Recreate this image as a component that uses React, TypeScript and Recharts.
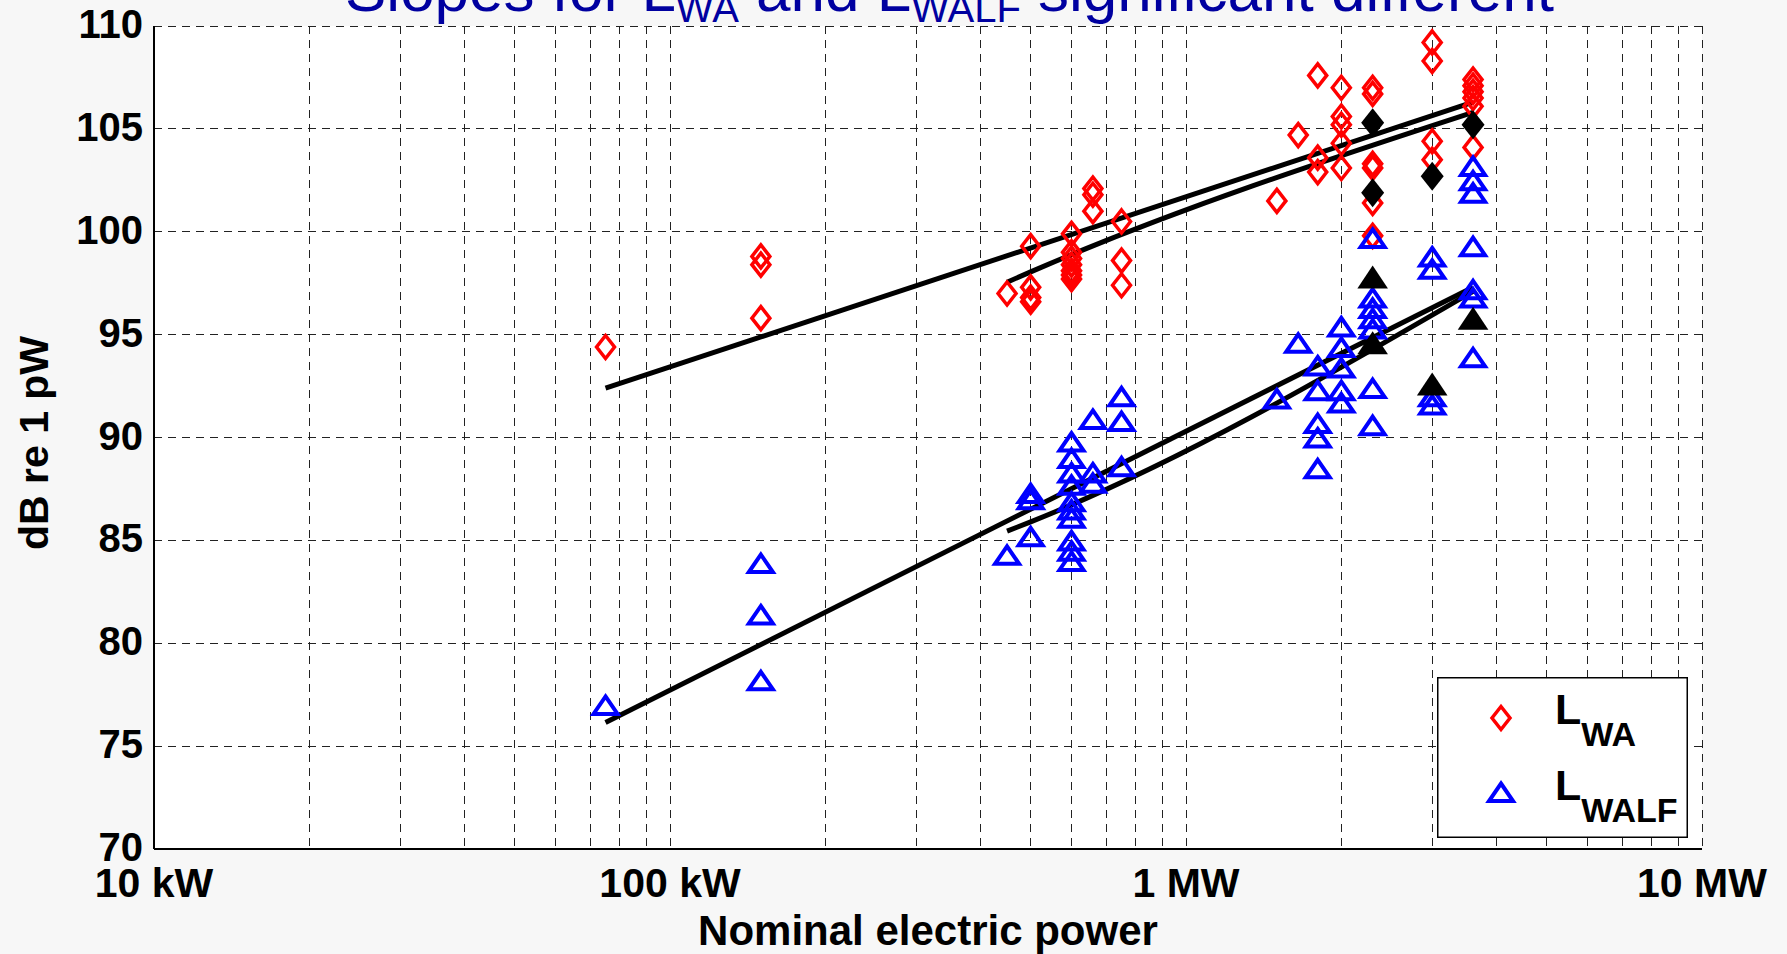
import {
  CartesianGrid,
  ComposedChart,
  Label,
  Legend,
  Line,
  Scatter,
  XAxis,
  YAxis,
} from "recharts"

const WIDTH = 1787
const HEIGHT = 954
const FONT = "'Liberation Sans', Arial, Helvetica, sans-serif"

// turbine ratings in kW (one column of markers per rating)
const ratingsKW = [75, 150, 450, 500, 600, 660, 750, 1500, 1650, 1800, 2000, 2300, 3000, 3600]

// A-weighted sound power level, dB re 1 pW
const lwaByRating = [
  [94.4],
  [98.8, 98.4, 95.8],
  [97.0],
  [99.3, 97.3, 96.8, 96.6],
  [99.9, 99.0, 98.7, 98.4, 98.1, 97.9, 97.7],
  [102.1, 101.8, 101.0],
  [100.5, 98.6, 97.4],
  [101.5],
  [104.7],
  [107.6, 103.6, 102.9],
  [107.0, 105.6, 105.2, 104.3, 103.1],
  [107.0, 106.7, 103.3, 103.1, 101.4, 99.8],
  [109.2, 108.3, 104.4, 103.5],
  [107.4, 107.1, 106.8, 106.5, 106.1, 104.1],
]

// A-weighted low-frequency sound power level
const lwalfByRating = [
  [77.0],
  [83.9, 81.4, 78.2],
  [84.3],
  [87.3, 87.0, 85.2],
  [89.8, 89.0, 88.3, 87.7, 86.9, 86.5, 86.1, 85.0, 84.5, 84.0],
  [90.9, 88.3, 87.8],
  [92.0, 90.8, 88.6],
  [91.9],
  [94.6],
  [93.5, 92.3, 90.7, 90.0, 88.5],
  [95.4, 94.4, 93.4, 92.3, 91.7],
  [99.7, 96.8, 96.3, 95.8, 95.3, 92.4, 90.6],
  [98.8, 98.2, 92.0, 91.6],
  [103.2, 102.5, 101.9, 99.3, 97.2, 96.8, 93.9],
]

// highlighted turbines (filled black)
const markedKW = [2300, 2300, 3000, 3600]
const markedLwa = [105.3, 101.9, 102.7, 105.2]
const markedLwalf = [97.8, 94.6, 92.6, 95.8]

// regression lines: all turbines, and turbines from 450 kW up
const lwaFitAllKW = [75, 3600]
const lwaFitAllDb = [92.4, 106.3]
const lwaFitLargeKW = [450, 500, 3600]
const lwaFitLargeDb = [97.55, 98.05, 105.8]
const lwalfFitAllKW = [75, 3600]
const lwalfFitAllDb = [76.15, 97.3]
const lwalfFitLargeKW = [450, 500, 3600]
const lwalfFitLargeDb = [85.45, 85.9, 97.1]

// axis ticks
const xTicks = [
  10, 20, 30, 40, 50, 60, 70, 80, 90,
  100, 200, 300, 400, 500, 600, 700, 800, 900,
  1000, 2000, 3000, 4000, 5000, 6000, 7000, 8000, 9000,
  10000,
]
const decadeTicks = [10, 100, 1000, 10000]
const decadeLabels = ["10 kW", "100 kW", "1 MW", "10 MW"]
const yTicks = [70, 75, 80, 85, 90, 95, 100, 105, 110]

const toPoints = (byRating: number[][]) =>
  ratingsKW.flatMap((kw, i) => byRating[i].map((y) => ({ x: kw, y })))
const zip = (xs: number[], ys: number[]) => xs.map((x, i) => ({ x, y: ys[i] }))

const lwaPoints = toPoints(lwaByRating)
const lwalfPoints = toPoints(lwalfByRating)
const markedLwaPoints = zip(markedKW, markedLwa)
const markedLwalfPoints = zip(markedKW, markedLwalf)

const PLOT_LEFT = 154
const PLOT_RIGHT = 1702

const diamondPath = (cx: number, cy: number, w: number, h: number) =>
  `M${cx},${cy - h} L${cx + w},${cy} L${cx},${cy + h} L${cx - w},${cy} Z`
const trianglePath = (cx: number, cy: number, w: number, top: number, bottom: number) =>
  `M${cx},${cy - top} L${cx + w},${cy + bottom} L${cx - w},${cy + bottom} Z`

const OpenDiamond = ({ cx, cy }: any) => (
  <path d={diamondPath(cx, cy, 9, 11.5)} fill="none" stroke="#ff0000" strokeWidth={3.5} />
)
const OpenTriangle = ({ cx, cy }: any) => (
  <path d={trianglePath(cx, cy, 12, 8.5, 9)} fill="none" stroke="#0000ff" strokeWidth={4} />
)
const BlackDiamond = ({ cx, cy }: any) => <path d={diamondPath(cx, cy, 11.5, 14.5)} fill="#000" />
const BlackTriangle = ({ cx, cy }: any) => (
  <path d={trianglePath(cx, cy, 15.3, 11.5, 11.5)} fill="#000" />
)

const XTick = ({ x, y, payload }: any) => {
  const i = decadeTicks.indexOf(payload.value)
  if (i < 0) return <g />
  return (
    <text x={x} y={y + 48} textAnchor="middle" fontFamily={FONT} fontWeight="bold" fontSize={41} fill="#000">
      {decadeLabels[i]}
    </text>
  )
}

const YTick = ({ x, y, payload }: any) => (
  <text x={x - 11} y={y + 12} textAnchor="end" fontFamily={FONT} fontWeight="bold" fontSize={40} fill="#000">
    {payload.value}
  </text>
)

const XTitle = () => (
  <text x={(PLOT_LEFT + PLOT_RIGHT) / 2} y={945} textAnchor="middle" fontFamily={FONT} fontWeight="bold" fontSize={42} fill="#000">
    Nominal electric power
  </text>
)

const YTitle = () => (
  <text transform="translate(48,443) rotate(-90)" textAnchor="middle" fontFamily={FONT} fontWeight="bold" fontSize={41} fill="#000">
    dB re 1 pW
  </text>
)

const LegendBox = () => (
  <svg width={251} height={161} style={{ display: "block" }}>
    <rect x={0.75} y={0.75} width={249.5} height={159.5} fill="#fff" stroke="#000" strokeWidth={1.5} />
    <path d={diamondPath(64, 41, 9, 11.5)} fill="none" stroke="#ff0000" strokeWidth={3.5} />
    <path d={trianglePath(64, 115, 12, 8.5, 9)} fill="none" stroke="#0000ff" strokeWidth={4} />
    <text x={118} y={47} fontFamily={FONT} fontWeight="bold" fontSize={43} fill="#000">
      L<tspan fontSize={34} dy={22}>WA</tspan>
    </text>
    <text x={118} y={123} fontFamily={FONT} fontWeight="bold" fontSize={43} fill="#000">
      L<tspan fontSize={34} dy={22}>WALF</tspan>
    </text>
  </svg>
)

export default function App() {
  return (
    <div
      style={{
        position: "absolute",
        left: 0,
        top: 0,
        width: WIDTH,
        height: HEIGHT,
        background: "#f7f7f7",
        overflow: "hidden",
      }}
    >
      <ComposedChart width={WIDTH} height={HEIGHT} margin={{ top: 26, right: 85, left: 54, bottom: 45 }}>
        <CartesianGrid stroke="#222" strokeDasharray="8 6" fill="#fff" shapeRendering="crispEdges" />
        <XAxis
          dataKey="x"
          type="number"
          scale="log"
          domain={[10, 10000]}
          allowDataOverflow
          ticks={xTicks}
          interval={0}
          tick={XTick}
          tickLine={false}
          tickSize={0}
          tickMargin={0}
          height={60}
          axisLine={{ stroke: "#000", strokeWidth: 2 }}
        >
          <Label content={XTitle} />
        </XAxis>
        <XAxis
          xAxisId="top"
          orientation="top"
          type="number"
          scale="log"
          domain={[10, 10000]}
          allowDataOverflow
          height={0}
          tick={false}
          tickLine={false}
          axisLine={{ stroke: "#000", strokeWidth: 2 }}
        />
        <YAxis
          dataKey="y"
          type="number"
          domain={[70, 110]}
          allowDataOverflow
          ticks={yTicks}
          interval={0}
          tick={YTick}
          tickLine={false}
          tickSize={0}
          tickMargin={0}
          width={100}
          axisLine={{ stroke: "#000", strokeWidth: 2 }}
        >
          <Label content={YTitle} />
        </YAxis>
        <YAxis
          yAxisId="right"
          orientation="right"
          type="number"
          domain={[70, 110]}
          width={0}
          tick={false}
          tickLine={false}
          axisLine={{ stroke: "#000", strokeWidth: 2 }}
        />
        <Legend
          layout="vertical"
          align="center"
          verticalAlign="middle"
          wrapperStyle={{ left: 1437, top: 677, width: 251, height: 161 }}
          content={LegendBox}
        />
        <Scatter name="LWA" data={lwaPoints} shape={OpenDiamond} isAnimationActive={false} />
        <Scatter name="LWALF" data={lwalfPoints} shape={OpenTriangle} isAnimationActive={false} />
        <Scatter data={markedLwaPoints} shape={BlackDiamond} isAnimationActive={false} legendType="none" />
        <Scatter data={markedLwalfPoints} shape={BlackTriangle} isAnimationActive={false} legendType="none" />
        <Line data={zip(lwaFitAllKW, lwaFitAllDb)} dataKey="y" type="linear" stroke="#000" strokeWidth={5} dot={false} isAnimationActive={false} legendType="none" />
        <Line data={zip(lwaFitLargeKW, lwaFitLargeDb)} dataKey="y" type="monotone" stroke="#000" strokeWidth={5} dot={false} isAnimationActive={false} legendType="none" />
        <Line data={zip(lwalfFitAllKW, lwalfFitAllDb)} dataKey="y" type="linear" stroke="#000" strokeWidth={5} dot={false} isAnimationActive={false} legendType="none" />
        <Line data={zip(lwalfFitLargeKW, lwalfFitLargeDb)} dataKey="y" type="monotone" stroke="#000" strokeWidth={5} dot={false} isAnimationActive={false} legendType="none" />
      </ComposedChart>
      <svg
        width={WIDTH}
        height={HEIGHT}
        style={{ position: "absolute", left: 0, top: 0, pointerEvents: "none" }}
      >
        <text x={345} y={11} fontFamily={FONT} fontSize={62} fill="#0000a0">
          Slopes for L
          <tspan fontSize={40} dy={11}>WA</tspan>
          <tspan fontSize={62} dy={-11}> and L</tspan>
          <tspan fontSize={40} dy={11}>WALF</tspan>
          <tspan fontSize={62} dy={-11}> significant different</tspan>
        </text>
      </svg>
    </div>
  )
}
